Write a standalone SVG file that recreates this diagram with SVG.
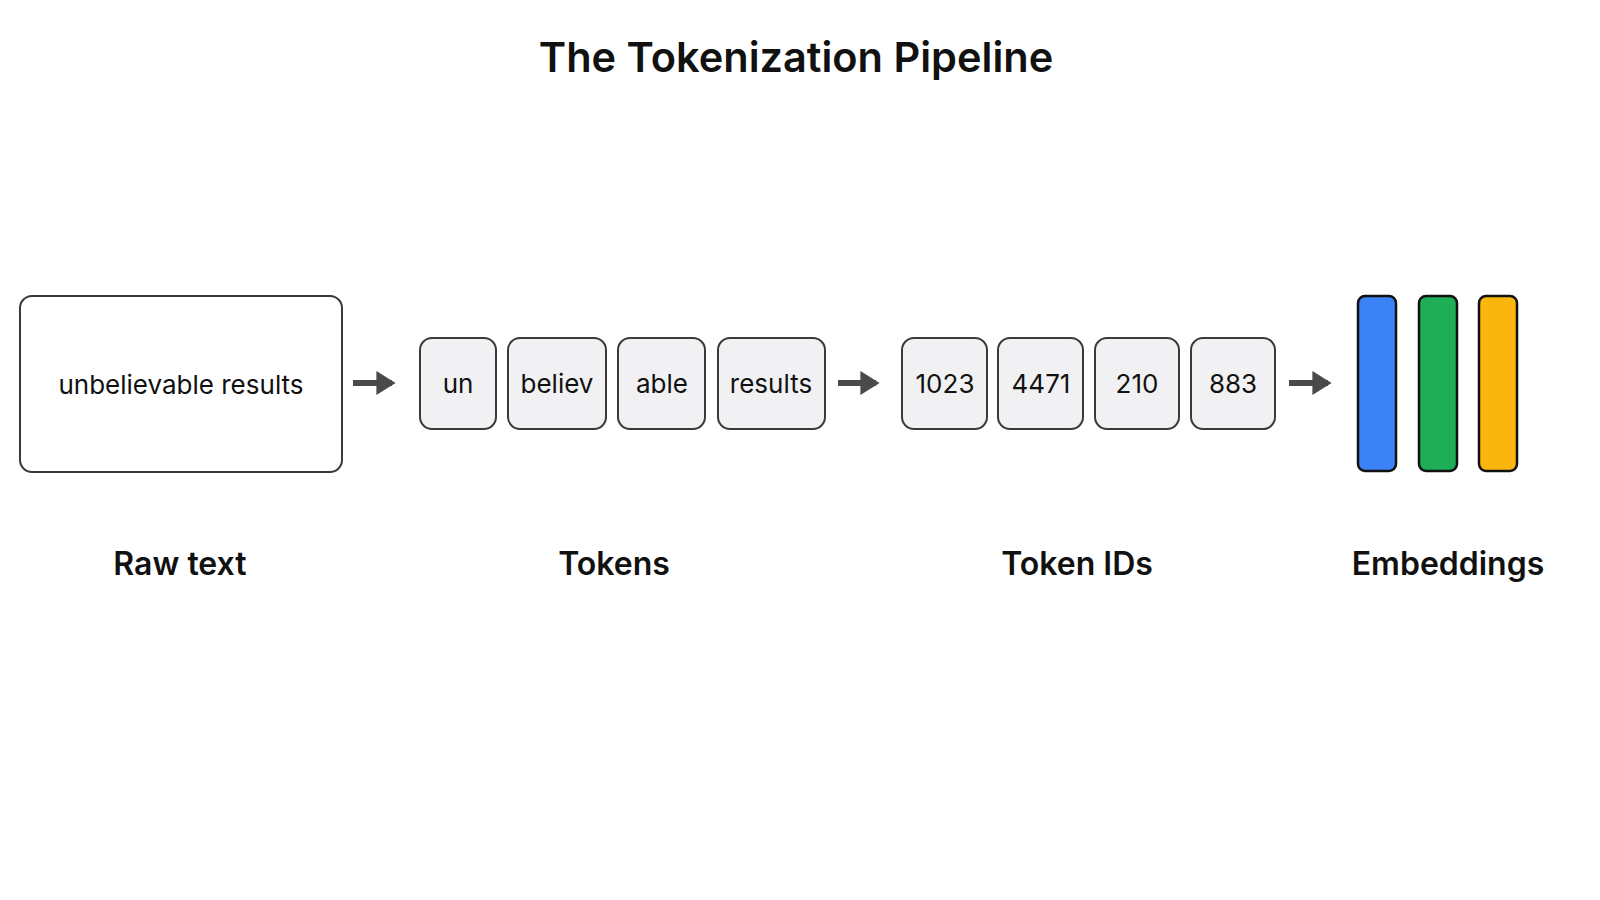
<svg xmlns="http://www.w3.org/2000/svg" width="1600" height="900" viewBox="0 0 1600 900">
<style>
text{font-family:"Inter","Liberation Sans",sans-serif;fill:#111}
.t{font-size:26px;text-anchor:middle}
.lbl{font-size:32px;font-weight:600;text-anchor:middle}
.tok{fill:#f1f1f3;stroke:#3a3a3a;stroke-width:2}
.bar{stroke:#111;stroke-width:2.5}
.arr{stroke:#4a4a4a;stroke-width:6;fill:none}
</style>
<defs><marker id="ah" markerWidth="4" markerHeight="4" refX="2.6" refY="2" orient="auto"><path d="M0,0 L3.2,2 L0,4 Z" fill="#4a4a4a"/></marker></defs>
<rect width="1600" height="900" fill="#fff"/>
<text x="796" y="72" font-weight="600" text-anchor="middle" style="font-size:41.5px">The Tokenization Pipeline</text>
<g id="raw"><rect x="20" y="296" width="322" height="176" rx="12" fill="#fff" stroke="#3a3a3a" stroke-width="2"/><text class="t" x="181" y="394">unbelievable results</text></g>
<g id="tok-un"><rect class="tok" x="420" y="338" width="76" height="91" rx="12"/><text class="t" x="458" y="393">un</text></g>
<g id="tok-believ"><rect class="tok" x="508" y="338" width="98" height="91" rx="12"/><text class="t" x="557" y="393">believ</text></g>
<g id="tok-able"><rect class="tok" x="618" y="338" width="87" height="91" rx="12"/><text class="t" x="662" y="393">able</text></g>
<g id="tok-results"><rect class="tok" x="718" y="338" width="107" height="91" rx="12"/><text class="t" x="771" y="393">results</text></g>
<g id="id-1023"><rect class="tok" x="902" y="338" width="85" height="91" rx="12"/><text class="t" x="945" y="393">1023</text></g>
<g id="id-4471"><rect class="tok" x="998" y="338" width="85" height="91" rx="12"/><text class="t" x="1041" y="393">4471</text></g>
<g id="id-210"><rect class="tok" x="1095" y="338" width="84" height="91" rx="12"/><text class="t" x="1137" y="393">210</text></g>
<g id="id-883"><rect class="tok" x="1191" y="338" width="84" height="91" rx="12"/><text class="t" x="1233" y="393">883</text></g>
<g id="emb"><rect class="bar" x="1358" y="296" width="38" height="175" rx="7" fill="#3b82f6"/><rect class="bar" x="1419" y="296" width="38" height="175" rx="7" fill="#1fae55"/><rect class="bar" x="1479" y="296" width="38" height="175" rx="7" fill="#fbb60e"/></g>
<g id="connectors">
<line class="arr" x1="353" y1="383" x2="392" y2="383" marker-end="url(#ah)"/>
<line class="arr" x1="838" y1="383" x2="876" y2="383" marker-end="url(#ah)"/>
<line class="arr" x1="1289" y1="383" x2="1328" y2="383" marker-end="url(#ah)"/>
</g>
<text class="lbl" x="180" y="575">Raw text</text>
<text class="lbl" x="614" y="575">Tokens</text>
<text class="lbl" x="1077" y="575">Token IDs</text>
<text class="lbl" x="1448" y="575">Embeddings</text>
</svg>
